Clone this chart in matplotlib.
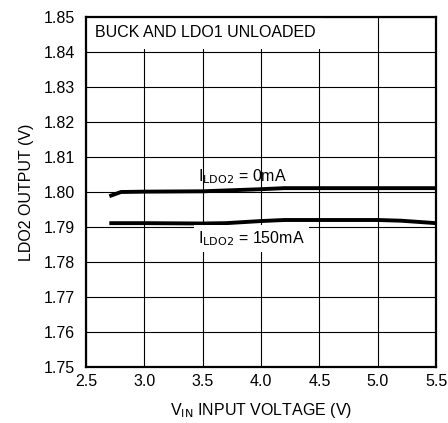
import numpy as np
import matplotlib.pyplot as plt

plt.rcParams['font.family'] = ['Liberation Sans Narrow', 'Liberation Sans', 'DejaVu Sans']

# readings from the plot
vin_0ma = [2.7, 2.8, 3.0, 3.5, 4.0, 4.2, 4.5, 5.0, 5.5]
vout_0ma = [1.7988, 1.8000, 1.8001, 1.8002, 1.8008, 1.8011, 1.8011, 1.8011, 1.8011]

vin_150ma = [2.7, 3.0, 3.5, 3.7, 4.0, 4.2, 4.5, 5.0, 5.2, 5.5]
vout_150ma = [1.7911, 1.7911, 1.7910, 1.7911, 1.7917, 1.7920, 1.7920, 1.7920, 1.7918, 1.7911]

xticks = [2.5, 3.0, 3.5, 4.0, 4.5, 5.0, 5.5]
yticks = np.round(np.arange(1.75, 1.8501, 0.01), 2)

fig = plt.figure(figsize=(4.48, 4.23), dpi=100)
ax = fig.add_axes([86 / 448, 56 / 423, 350 / 448, 350 / 423])

ax.set_xlim(2.5, 5.5)
ax.set_ylim(1.75, 1.85)
ax.set_xticks(xticks)
ax.set_xticklabels([f"{t:.1f}" for t in xticks])
ax.set_yticks(yticks)
ax.set_yticklabels([f"{t:.2f}" for t in yticks])
ax.tick_params(length=0, labelsize=11.5)
ax.tick_params(axis='y', pad=8)
ax.tick_params(axis='x', pad=5)
ax.grid(True, color='black', lw=0.8)
ax.set_axisbelow(True)
for s in ax.spines.values():
    s.set_linewidth(1.6)
    s.set_zorder(5)

ax.plot(vin_0ma, vout_0ma, color='black', lw=2.8, solid_capstyle='butt')
ax.plot(vin_150ma, vout_150ma, color='black', lw=2.8, solid_capstyle='butt')

ax.text(2.58, 1.8455, "BUCK AND LDO1 UNLOADED", fontsize=11.5, va='center', ha='left',
        zorder=3, bbox=dict(facecolor='white', edgecolor='none', pad=6))
ax.text(3.845, 1.8043, r"I$_{\mathrm{LDO2}}$ = 0mA", fontsize=11.5, va='center', ha='center',
        zorder=3)
ax.text(3.92, 1.7867, r"I$_{\mathrm{LDO2}}$ = 150mA", fontsize=11.5, va='center', ha='center',
        zorder=3, bbox=dict(facecolor='white', edgecolor='none', pad=3))

ax.set_xlabel(r"V$_{\mathrm{IN}}$ INPUT VOLTAGE (V)", fontsize=11.5, labelpad=9)
ax.set_ylabel("LDO2 OUTPUT (V)", fontsize=11.5, labelpad=7)

fig.savefig("out.png", dpi=100)
